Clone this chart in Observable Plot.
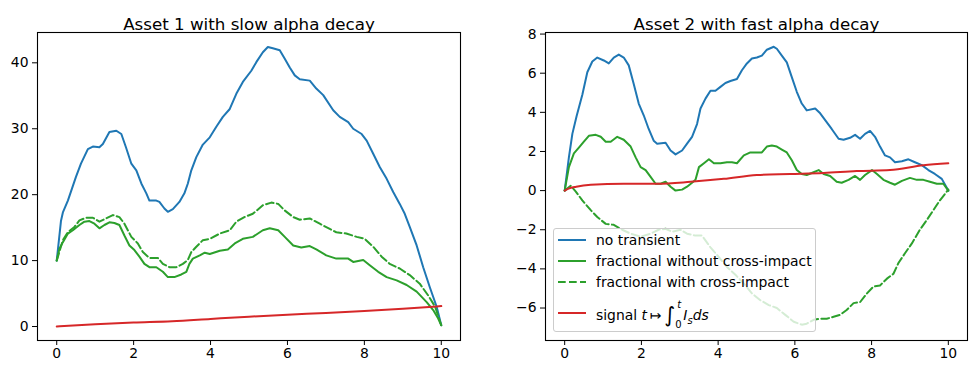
<!DOCTYPE html>
<html>
<head>
<meta charset="utf-8">
<script src="https://cdn.jsdelivr.net/npm/d3@7"></script>
<script src="https://cdn.jsdelivr.net/npm/@observablehq/plot@0.6"></script>
<style>
  html, body { margin: 0; padding: 0; background: #fff; }
  #wrap { position: relative; width: 977px; height: 374px; font-family: "DejaVu Sans", sans-serif; }
  #wrap svg.plot { position: absolute; top: 0; }
  #legend { position: absolute; left: 553px; top: 228px; width: 263px; height: 104px;
    background: rgba(255,255,255,0.8); border: 1px solid #cccccc; border-radius: 3px; box-sizing: border-box; }
  .row { position: absolute; left: 0; height: 20px; width: 100%; }
  .row svg { position: absolute; left: 3px; top: 0; }
  .row span.lab { position: absolute; left: 42px; top: 0; font-size: 13.9px; line-height: 20px; color: #000; white-space: nowrap; }
  .m { font-style: italic; }
  .int { font-size: 21px; font-style: normal; position: relative; top: 2px; margin-left: 3px; }
  .lim { display: inline-block; position: relative; width: 8px; height: 20px; vertical-align: top; }
  .lim .sup { position: absolute; left: 2px; top: -8px; font-size: 10px; font-style: italic; }
  .lim .sub { position: absolute; left: 0px; top: 12px; font-size: 10px; }
  .sb { font-size: 10px; position: relative; top: 4px; font-style: italic; }
</style>
</head>
<body>
<div id="wrap"></div>
<script>
// ---------- data (t, value) ----------
const xTicks = [0, 2, 4, 6, 8, 10];
const asset1YTicks = [0, 10, 20, 30, 40];
const asset2YTicks = [-6, -4, -2, 0, 2, 4, 6, 8];
const titles = ["Asset 1 with slow alpha decay", "Asset 2 with fast alpha decay"];
const seriesNames = ["no transient", "fractional without cross-impact", "fractional with cross-impact", "signal"];

const a1NoTransient = [[0,10],[0.11,16],[0.16,17.3],[0.29,19.1],[0.5,22.7],[0.63,24.7],[0.81,26.9],[0.94,27.3],[1.11,27.2],[1.2,27.7],[1.37,29.5],[1.55,29.7],[1.68,29.2],[1.8,27.2],[1.94,24.7],[2.07,23.7],[2.2,21.7],[2.33,20.2],[2.41,19.1],[2.59,19.1],[2.67,18.9],[2.8,17.9],[2.89,17.4],[3.02,17.8],[3.19,18.9],[3.32,20.2],[3.41,21.7],[3.5,23.7],[3.63,25.7],[3.8,27.6],[3.98,28.7],[4.15,30.3],[4.32,31.8],[4.5,33.0],[4.67,35.3],[4.84,37.1],[5.06,38.8],[5.19,40.1],[5.36,41.6],[5.49,42.4],[5.62,42.2],[5.8,41.9],[5.93,40.6],[6.06,39.3],[6.19,38.1],[6.32,37.5],[6.58,37.3],[6.75,36.1],[6.93,35.1],[7.19,32.8],[7.36,31.8],[7.58,31.0],[7.71,30.0],[7.93,29.2],[8.06,28.2],[8.23,26.2],[8.4,24.2],[8.58,22.4],[8.75,20.4],[8.92,18.6],[9.05,17.1],[9.18,15.1],[9.36,12.3],[9.53,9.0],[9.7,6.0],[9.88,3.0],[10,0.2]];
const a1FracNoCross = [[0,10],[0.07,11.8],[0.16,12.8],[0.29,14.1],[0.42,14.6],[0.59,15.4],[0.72,15.9],[0.85,16.0],[0.98,15.6],[1.11,14.9],[1.24,15.4],[1.37,15.8],[1.5,15.7],[1.63,15.4],[1.76,13.8],[1.89,12.3],[2.02,11.6],[2.15,10.6],[2.28,9.5],[2.41,9.0],[2.59,9.0],[2.76,8.3],[2.89,7.5],[3.06,7.5],[3.24,7.9],[3.37,8.3],[3.45,9.5],[3.54,10.3],[3.72,10.8],[3.85,11.2],[3.98,11.0],[4.24,11.5],[4.45,11.7],[4.63,12.6],[4.84,13.3],[5.1,13.6],[5.36,14.6],[5.54,14.9],[5.76,14.6],[5.93,13.6],[6.15,12.3],[6.36,12.0],[6.58,12.2],[6.75,11.7],[7.01,10.8],[7.27,10.3],[7.58,10.3],[7.71,9.8],[7.97,10.1],[8.14,9.3],[8.36,8.3],[8.58,7.5],[8.84,7.0],[9.1,6.3],[9.36,5.3],[9.62,3.7],[9.79,2.5],[9.92,1.2],[10,0.2]];
const a1FracCross = [[0,10],[0.16,13.1],[0.29,14.3],[0.46,15.1],[0.59,16.1],[0.76,16.5],[0.94,16.5],[1.11,15.9],[1.28,16.4],[1.46,16.9],[1.63,16.6],[1.76,15.6],[1.94,13.6],[2.11,12.6],[2.24,11.3],[2.41,10.4],[2.63,10.4],[2.76,9.5],[2.93,9.0],[3.11,9.0],[3.28,9.5],[3.41,10.1],[3.5,11.3],[3.63,12.1],[3.8,13.1],[3.98,13.3],[4.24,14.1],[4.5,14.6],[4.67,15.9],[4.88,16.6],[5.1,17.1],[5.36,18.4],[5.58,18.8],[5.76,18.6],[5.93,17.6],[6.15,16.6],[6.32,16.2],[6.58,16.4],[6.84,15.6],[7.1,14.8],[7.27,14.3],[7.53,14.1],[7.8,13.6],[8.01,13.3],[8.23,12.1],[8.45,10.6],[8.66,9.5],[8.92,8.8],[9.18,7.8],[9.44,6.5],[9.66,4.7],[9.84,3.0],[10,0.2]];
const a1Signal = [[0,0],[1,0.35],[2,0.6],[3,0.8],[4,1.15],[5,1.5],[6,1.8],[7,2.05],[8,2.35],[9,2.7],[10,3.1]];

const a2NoTransient = [[0,0],[0.11,1.7],[0.2,2.9],[0.31,3.8],[0.46,4.9],[0.59,6.05],[0.72,6.6],[0.85,6.8],[1.02,6.65],[1.15,6.5],[1.28,6.8],[1.41,6.95],[1.54,6.8],[1.67,6.4],[1.8,5.45],[1.93,4.45],[2.06,3.85],[2.19,3.15],[2.32,2.55],[2.41,2.4],[2.63,2.45],[2.76,2.05],[2.89,1.85],[3.06,2.05],[3.19,2.4],[3.32,2.75],[3.45,3.4],[3.54,4.2],[3.67,4.7],[3.8,5.1],[3.93,5.1],[4.06,5.3],[4.19,5.5],[4.32,5.6],[4.49,5.7],[4.62,6.15],[4.75,6.5],[4.88,6.75],[5.01,6.8],[5.14,6.9],[5.27,7.2],[5.45,7.35],[5.53,7.25],[5.66,6.9],[5.79,6.55],[5.92,5.8],[6.05,5.05],[6.18,4.45],[6.31,4.1],[6.53,4.2],[6.66,3.95],[6.79,3.6],[6.96,3.15],[7.14,2.65],[7.27,2.6],[7.44,2.7],[7.57,2.85],[7.7,2.65],[7.83,2.9],[7.96,3.05],[8.09,2.75],[8.22,2.25],[8.35,1.8],[8.48,1.7],[8.61,1.45],[8.79,1.5],[8.96,1.6],[9.13,1.45],[9.31,1.3],[9.48,1.05],[9.65,0.85],[9.83,0.6],[10,0]];
const a2FracNoCross = [[0,0],[0.11,1.2],[0.24,1.9],[0.37,2.2],[0.5,2.5],[0.63,2.8],[0.81,2.85],[0.94,2.75],[1.07,2.5],[1.2,2.5],[1.37,2.75],[1.54,2.6],[1.72,2.25],[1.85,1.7],[1.98,1.2],[2.11,1.05],[2.24,0.7],[2.37,0.35],[2.5,0.35],[2.63,0.45],[2.76,0.2],[2.89,0],[3.06,0.05],[3.19,0.2],[3.32,0.4],[3.41,0.55],[3.5,1.2],[3.63,1.4],[3.76,1.6],[3.89,1.4],[4.06,1.4],[4.23,1.45],[4.36,1.45],[4.49,1.4],[4.67,1.8],[4.84,1.95],[5.01,1.95],[5.14,1.95],[5.27,2.25],[5.4,2.3],[5.53,2.25],[5.66,2.1],[5.79,1.95],[5.92,1.55],[6.05,1.05],[6.18,0.85],[6.31,0.8],[6.44,0.9],[6.62,1.05],[6.75,0.85],[6.92,0.75],[7.09,0.45],[7.22,0.4],[7.4,0.55],[7.57,0.75],[7.7,0.55],[7.83,0.8],[8.01,1.05],[8.14,0.85],[8.31,0.55],[8.48,0.4],[8.61,0.3],[8.79,0.5],[9.0,0.65],[9.18,0.55],[9.35,0.55],[9.52,0.45],[9.7,0.35],[9.87,0.35],[10,0]];
const a2FracCross = [[0,0],[0.16,0.25],[0.29,-0.05],[0.46,-0.5],[0.68,-1.0],[0.85,-1.35],[1.07,-1.7],[1.28,-1.75],[1.5,-2.0],[1.72,-2.2],[1.98,-2.35],[2.24,-2.2],[2.45,-2.0],[2.63,-1.95],[2.8,-2.1],[3.02,-2.0],[3.19,-2.2],[3.41,-2.3],[3.58,-2.3],[3.8,-2.9],[4.02,-3.4],[4.23,-3.9],[4.45,-4.3],[4.67,-4.75],[4.88,-5.25],[5.1,-5.6],[5.32,-5.85],[5.53,-6.0],[5.75,-6.35],[5.97,-6.7],[6.18,-6.85],[6.31,-6.8],[6.49,-6.6],[6.66,-6.55],[6.83,-6.55],[7.01,-6.45],[7.18,-6.35],[7.35,-6.1],[7.53,-5.75],[7.7,-5.7],[7.88,-5.25],[8.05,-4.9],[8.22,-4.85],[8.4,-4.5],[8.57,-4.25],[8.7,-3.7],[8.87,-3.2],[9.05,-2.7],[9.26,-2.0],[9.44,-1.5],[9.61,-1.0],[9.78,-0.5],[10,0.05]];
const a2Signal = [[0,0],[0.1,0.1],[0.3,0.2],[0.68,0.3],[1.54,0.35],[2.41,0.35],[3.28,0.45],[4.15,0.6],[5.01,0.8],[5.88,0.85],[6.75,0.9],[7.61,1.0],[8.48,1.05],[9.35,1.3],[10,1.4]];

// ---------- styling ----------
const colors = { blue: "#1f77b4", green: "#2ca02c", red: "#d62728" };
const LW = 2;
const fmt = d => d < 0 ? "\u2212" + Math.abs(d) : String(d);

function panel({title, noT, fracNo, fracCross, signal, yDomain, yTicks, width, mLeft, mRight}) {
  return Plot.plot({
    width, height: 374,
    marginLeft: mLeft, marginRight: mRight, marginTop: 32, marginBottom: 34,
    style: { fontFamily: "DejaVu Sans, sans-serif", fontSize: "13.9px", color: "#000", background: "transparent", overflow: "visible" },
    x: { domain: [-0.5, 10.5], ticks: xTicks, tickFormat: fmt, tickSize: 5, tickPadding: 3, label: null },
    y: { domain: yDomain, ticks: yTicks, tickFormat: fmt, tickSize: 5, tickPadding: 4, label: null },
    marks: [
      Plot.line(noT, { x: d => d[0], y: d => d[1], stroke: colors.blue, strokeWidth: LW }),
      Plot.line(fracNo, { x: d => d[0], y: d => d[1], stroke: colors.green, strokeWidth: LW }),
      Plot.line(fracCross, { x: d => d[0], y: d => d[1], stroke: colors.green, strokeWidth: LW, strokeDasharray: "7.7,3.3" }),
      Plot.line(signal, { x: d => d[0], y: d => d[1], stroke: colors.red, strokeWidth: LW, curve: "monotone-x" }),
      Plot.frame({ stroke: "#000", strokeWidth: 1.1 }),
      Plot.text([title], { frameAnchor: "top", dy: -14, text: d => d, fontSize: 16.7, fill: "#000" })
    ]
  });
}

const wrap = document.getElementById("wrap");
const p1 = panel({ title: titles[0], noT: a1NoTransient, fracNo: a1FracNoCross, fracCross: a1FracCross, signal: a1Signal,
  yDomain: [-2.12, 44.6], yTicks: asset1YTicks, width: 490, mLeft: 37, mRight: 30 });
p1.classList.add("plot"); p1.style.left = "0px";
const p2 = panel({ title: titles[1], noT: a2NoTransient, fracNo: a2FracNoCross, fracCross: a2FracCross, signal: a2Signal,
  yDomain: [-7.66, 8.08], yTicks: asset2YTicks, width: 487, mLeft: 55, mRight: 10 });
p2.classList.add("plot"); p2.style.left = "490px";
wrap.appendChild(p1);
wrap.appendChild(p2);

// ---------- legend ----------
const legend = document.createElement("div");
legend.id = "legend";
const entries = [
  { label: seriesNames[0], color: colors.blue, dash: null, top: 1 },
  { label: seriesNames[1], color: colors.green, dash: null, top: 22 },
  { label: seriesNames[2], color: colors.green, dash: "7.7,3.3", top: 43 },
  { label: null, color: colors.red, dash: null, top: 74 }
];
for (const e of entries) {
  const row = document.createElement("div");
  row.className = "row";
  row.style.top = e.top + "px";
  row.innerHTML = `<svg width="30" height="20"><line x1="1" x2="29" y1="10" y2="10" stroke="${e.color}" stroke-width="${LW}" ${e.dash ? `stroke-dasharray="${e.dash}"` : ""}/></svg>` +
    (e.label ? `<span class="lab">${e.label}</span>`
      : `<span class="lab">${seriesNames[3]} <span class="m">t</span>\u2009\u21a6<span class="int">\u222b</span><span class="lim"><span class="sup">t</span><span class="sub">0</span></span><span class="m">I</span><span class="sb">s</span><span class="m">ds</span></span>`);
  legend.appendChild(row);
}
wrap.appendChild(legend);
</script>
</body>
</html>
